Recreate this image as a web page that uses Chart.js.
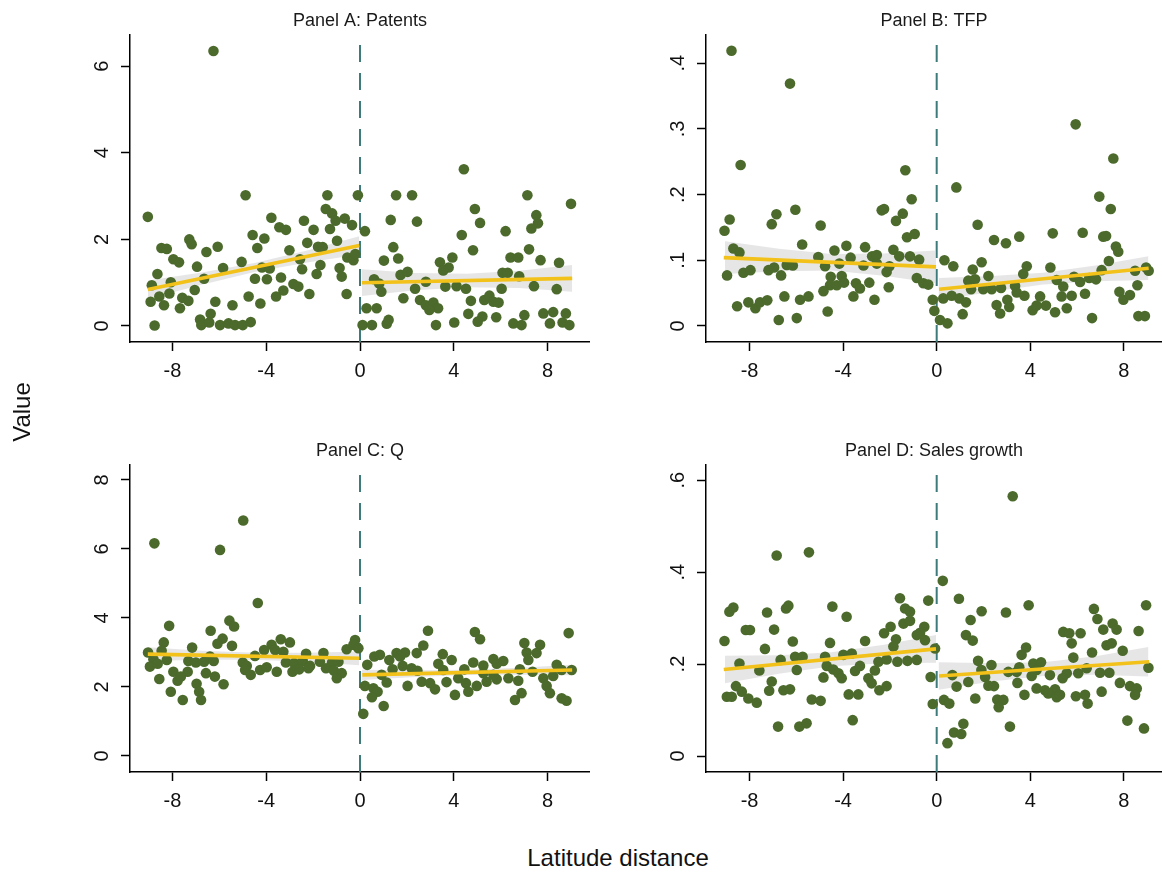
<!DOCTYPE html>
<html><head><meta charset="utf-8">
<script src="https://cdn.jsdelivr.net/npm/chart.js@4.4.1/dist/chart.umd.min.js"></script>
<style>
html,body{margin:0;padding:0;background:#fff;width:1162px;height:873px;overflow:hidden;position:relative;font-family:"Liberation Sans",Arial,sans-serif;}
canvas{position:absolute;}
.lbl{position:absolute;color:#111;font-size:24px;white-space:nowrap;line-height:24px;font-family:"Liberation Sans",Arial,sans-serif;}
</style></head><body>
<canvas id="cA" width="590" height="400" style="left:0px;top:0px"></canvas>
<canvas id="cB" width="586" height="400" style="left:576px;top:0px"></canvas>
<canvas id="cC" width="590" height="400" style="left:0px;top:430px"></canvas>
<canvas id="cD" width="586" height="400" style="left:576px;top:430px"></canvas>
<div class="lbl" style="left:-8px;top:400px;width:60px;text-align:center;transform:rotate(-90deg);">Value</div>
<div class="lbl" style="left:418px;top:846px;width:400px;text-align:center;">Latitude distance</div>
<script>
// ---------- DATA ----------
const panelTitles = ['Panel A: Patents', 'Panel B: TFP', 'Panel C: Q', 'Panel D: Sales growth'];
const xTicks = [-8, -4, 0, 4, 8];
const patentsYTicks = [0, 2, 4, 6];
const patentsYLabels = ['0', '2', '4', '6'];
const tfpYTicks = [0, 0.1, 0.2, 0.3, 0.4];
const tfpYLabels = ['0', '.1', '.2', '.3', '.4'];
const qYTicks = [0, 2, 4, 6, 8];
const qYLabels = ['0', '2', '4', '6', '8'];
const salesYTicks = [0, 0.2, 0.4, 0.6];
const salesYLabels = ['0', '.2', '.4', '.6'];

// Binned scatter points [latitude distance, value]
const patentsPoints = [
[-6.25,6.35],[-9.05,2.52],[-4.88,3.02],[-1.39,3.02],[-0.09,3.02],[-3.78,2.5],[-2.39,2.43],[-1.46,2.7],[-1.19,2.6],[-1.04,2.43],[-0.65,2.48],[-0.34,2.33],[-3.44,2.28],[-3.16,2.22],[-1.98,2.22],[-1.28,2.24],[-4.58,2.1],[-4.08,2.02],[-2.25,1.92],[-0.98,1.97],[-7.28,2.0],[-7.18,1.89],[-8.47,1.8],[-8.24,1.78],[-6.55,1.71],[-6.07,1.83],[-4.38,1.8],[-3.01,1.75],[-1.79,1.83],[-1.59,1.82],[-5.05,1.48],[-2.56,1.54],[-0.54,1.58],[-0.28,1.52],[-0.2,1.66],[-7.96,1.54],[-7.72,1.47],[-6.95,1.37],[-5.84,1.34],[-4.18,1.35],[-3.85,1.33],[-2.47,1.31],[-1.69,1.41],[-0.87,1.34],[-8.64,1.2],[-1.85,1.2],[-0.78,1.14],[-8.88,0.94],[-8.07,1.01],[-6.65,1.09],[-4.48,1.09],[-3.97,1.08],[-3.37,1.12],[-2.84,0.97],[-2.63,0.91],[-8.56,0.68],[-8.13,0.75],[-7.58,0.65],[-7.32,0.58],[-7.05,0.83],[-3.27,0.82],[-3.58,0.68],[-2.16,0.74],[-0.57,0.74],[-4.75,0.68],[-8.93,0.56],[-8.36,0.48],[-7.68,0.41],[-6.17,0.56],[-5.44,0.48],[-4.25,0.52],[-6.37,0.28],[-8.76,0.01],[-6.82,0.15],[-6.77,0.02],[-6.43,0.08],[-5.97,0.02],[-5.61,0.06],[-5.33,0.02],[-5.0,0.02],[-4.66,0.09],
[1.54,3.02],[2.22,3.02],[4.43,3.62],[7.14,3.02],[9.0,2.82],[4.9,2.7],[1.31,2.45],[2.43,2.41],[5.12,2.38],[7.52,2.56],[7.59,2.37],[7.31,2.25],[0.21,2.19],[6.21,2.19],[4.34,2.1],[1.42,1.82],[1.63,1.56],[1.02,1.51],[4.82,1.75],[3.94,1.58],[3.41,1.47],[3.78,1.35],[3.55,1.28],[6.42,1.58],[6.75,1.58],[7.21,1.77],[7.7,1.52],[8.49,1.46],[1.73,1.18],[2.03,1.25],[0.6,1.08],[0.82,0.98],[0.91,0.79],[2.81,1.02],[3.64,0.91],[4.12,0.92],[4.52,0.86],[6.08,1.23],[6.3,1.23],[6.79,1.15],[6.04,0.86],[7.42,0.92],[8.39,0.85],[2.35,0.86],[1.85,0.64],[2.56,0.6],[2.81,0.48],[3.13,0.54],[3.33,0.41],[2.96,0.37],[4.73,0.58],[5.3,0.6],[5.52,0.7],[5.69,0.56],[5.91,0.54],[0.28,0.41],[0.71,0.41],[4.62,0.28],[5.22,0.22],[5.02,0.1],[5.81,0.2],[7.01,0.25],[7.82,0.29],[8.24,0.32],[8.78,0.29],[0.11,0.02],[0.51,0.02],[1.14,0.05],[1.22,0.14],[3.24,0.02],[4.02,0.08],[6.54,0.06],[6.89,0.02],[8.1,0.06],[8.64,0.08],[8.93,0.02]
];
const tfpPoints = [
[-8.77,0.419],[-6.27,0.369],[-8.38,0.245],[-1.34,0.237],[-1.07,0.193],[-8.85,0.162],[-9.07,0.145],[-6.85,0.17],[-7.05,0.155],[-6.04,0.177],[-4.96,0.153],[-2.35,0.176],[-2.25,0.178],[-1.45,0.171],[-1.74,0.16],[-1.27,0.135],[-0.94,0.14],[-5.75,0.124],[-8.69,0.118],[-8.43,0.112],[-5.06,0.105],[-4.37,0.115],[-3.86,0.122],[-3.06,0.12],[-3.68,0.104],[-2.76,0.106],[-2.56,0.108],[-1.85,0.116],[-1.6,0.106],[-1.14,0.106],[-0.75,0.101],[-4.77,0.091],[-4.16,0.095],[-3.13,0.092],[-2.56,0.095],[-2.02,0.091],[-6.41,0.093],[-6.15,0.092],[-8.96,0.077],[-8.26,0.081],[-7.96,0.085],[-7.19,0.085],[-6.95,0.089],[-6.65,0.077],[-4.53,0.075],[-4.06,0.076],[-4.56,0.062],[-4.27,0.062],[-3.96,0.066],[-3.45,0.065],[-3.28,0.057],[-2.88,0.066],[-2.14,0.082],[-2.05,0.059],[-0.85,0.073],[-0.57,0.065],[-0.36,0.063],[-4.84,0.053],[-3.56,0.045],[-2.66,0.04],[-8.53,0.03],[-8.05,0.036],[-7.75,0.027],[-7.55,0.036],[-7.24,0.039],[-6.51,0.045],[-5.84,0.04],[-5.48,0.045],[-6.75,0.009],[-5.98,0.012],[-4.66,0.022],[-0.17,0.04],[-0.1,0.023],
[5.94,0.307],[7.55,0.255],[0.84,0.211],[6.95,0.197],[7.44,0.178],[1.75,0.154],[2.45,0.131],[2.96,0.126],[3.53,0.136],[4.96,0.141],[6.24,0.142],[7.12,0.136],[7.24,0.137],[7.66,0.121],[7.76,0.113],[0.33,0.1],[0.71,0.091],[7.36,0.099],[1.92,0.097],[1.54,0.086],[2.21,0.076],[3.85,0.091],[3.7,0.079],[4.86,0.089],[1.35,0.069],[1.64,0.071],[1.47,0.056],[1.99,0.056],[2.35,0.056],[2.75,0.058],[3.35,0.061],[5.13,0.07],[5.41,0.06],[5.87,0.075],[6.13,0.067],[6.52,0.073],[6.81,0.071],[7.05,0.085],[8.48,0.084],[8.95,0.089],[9.06,0.084],[8.58,0.062],[3.42,0.051],[3.75,0.046],[0.28,0.042],[0.64,0.046],[0.97,0.042],[1.25,0.036],[1.11,0.018],[0.14,0.009],[0.46,0.004],[2.56,0.032],[2.71,0.019],[3.02,0.04],[3.1,0.029],[4.1,0.024],[4.42,0.045],[4.67,0.031],[5.06,0.021],[5.56,0.027],[5.34,0.045],[5.77,0.046],[6.34,0.049],[6.64,0.012],[7.81,0.052],[7.98,0.04],[8.26,0.047],[8.62,0.015],[8.9,0.015],[4.27,0.031]
];
const qPoints = [
[-8.77,6.16],[-5.97,5.97],[-4.98,6.82],[-4.36,4.43],[-8.14,3.77],[-5.57,3.92],[-5.37,3.75],[-6.37,3.63],[-8.37,3.29],[-5.86,3.4],[-6.08,3.25],[-5.46,3.19],[-7.16,3.14],[-9.04,3.0],[-8.46,3.05],[-3.38,3.38],[-2.99,3.29],[-3.77,3.22],[-4.09,3.07],[-3.62,3.07],[-3.27,3.02],[-2.3,2.96],[-1.56,2.98],[-0.57,3.09],[-0.21,3.36],[-0.28,3.22],[-0.07,3.12],[-4.48,2.9],[-6.4,2.88],[-8.81,2.8],[-8.24,2.78],[-7.32,2.75],[-7.0,2.71],[-6.65,2.73],[-6.24,2.75],[-5.0,2.71],[-3.16,2.71],[-2.81,2.69],[-2.44,2.75],[-2.13,2.61],[-1.71,2.73],[-1.19,2.71],[-0.92,2.73],[-8.96,2.59],[-8.63,2.67],[-4.83,2.61],[-7.96,2.44],[-7.35,2.44],[-6.57,2.4],[-6.19,2.3],[-4.9,2.49],[-4.26,2.49],[-3.98,2.57],[-3.55,2.44],[-2.88,2.44],[-2.59,2.51],[-2.2,2.54],[-1.45,2.54],[-1.11,2.47],[-0.78,2.4],[-4.66,2.35],[-8.56,2.23],[-7.78,2.18],[-7.64,2.3],[-0.99,2.25],[-6.97,2.09],[-5.82,2.08],[-8.07,1.86],[-6.86,1.86],[-7.56,1.62],[-6.78,1.62],
[2.9,3.63],[4.9,3.59],[5.12,3.38],[8.9,3.56],[7.01,3.27],[7.68,3.22],[2.7,3.2],[2.42,2.98],[7.11,3.0],[7.53,2.98],[7.18,2.78],[0.61,2.88],[0.85,2.93],[1.56,2.98],[1.92,3.0],[1.71,2.88],[1.25,2.78],[3.53,2.95],[3.91,2.78],[3.34,2.67],[4.83,2.71],[5.26,2.62],[5.69,2.81],[6.11,2.75],[5.83,2.67],[0.31,2.64],[1.39,2.51],[1.82,2.61],[2.2,2.54],[2.45,2.47],[3.55,2.49],[4.45,2.51],[6.82,2.51],[7.36,2.44],[8.39,2.64],[8.6,2.49],[9.03,2.49],[0.92,2.35],[1.14,2.13],[2.63,2.15],[2.99,2.11],[3.69,2.14],[4.19,2.25],[4.52,2.11],[4.98,2.03],[5.4,2.15],[5.83,2.22],[6.33,2.25],[6.75,2.18],[7.82,2.25],[8.24,2.32],[7.96,2.03],[0.21,2.03],[0.57,1.96],[0.75,1.86],[0.51,1.7],[2.03,2.03],[3.2,1.93],[4.05,1.77],[4.62,1.86],[8.1,1.82],[6.89,1.82],[6.61,1.62],[8.6,1.67],[8.81,1.6],[1.01,1.45],[0.14,1.22],[5.26,2.4],[5.69,2.35]
];
const salesPoints = [
[-6.84,0.436],[-5.46,0.443],[-1.57,0.343],[-0.36,0.338],[-8.86,0.314],[-8.69,0.323],[-6.44,0.321],[-6.34,0.327],[-4.46,0.325],[-7.25,0.312],[-3.85,0.303],[-1.35,0.321],[-1.14,0.314],[-1.42,0.288],[-1.14,0.294],[-1.97,0.281],[-2.25,0.267],[-0.53,0.281],[-0.71,0.268],[-0.85,0.263],[-0.5,0.252],[-8.16,0.274],[-7.98,0.274],[-6.95,0.275],[-9.07,0.25],[-3.06,0.25],[-1.74,0.254],[-6.15,0.249],[-4.56,0.246],[-7.34,0.233],[-1.85,0.238],[-0.07,0.234],[-8.43,0.201],[-6.67,0.209],[-6.05,0.216],[-5.73,0.216],[-4.77,0.216],[-3.99,0.22],[-3.63,0.223],[-2.49,0.205],[-2.14,0.21],[-1.68,0.205],[-1.25,0.207],[-0.85,0.209],[-7.58,0.186],[-5.98,0.187],[-4.7,0.196],[-4.42,0.188],[-4.2,0.18],[-4.06,0.169],[-3.49,0.185],[-3.28,0.196],[-2.64,0.186],[-4.84,0.171],[-2.92,0.169],[-2.78,0.158],[-2.45,0.143],[-2.14,0.152],[-7.05,0.162],[-7.16,0.142],[-6.55,0.143],[-6.27,0.145],[-8.58,0.152],[-8.97,0.129],[-8.76,0.129],[-8.33,0.14],[-8.05,0.125],[-7.69,0.116],[-5.34,0.123],[-4.96,0.12],[-3.76,0.134],[-3.35,0.134],[-0.26,0.172],[-0.17,0.113],[-3.59,0.078],[-6.78,0.064],[-5.87,0.064],[-5.56,0.071],
[3.25,0.565],[0.26,0.381],[0.95,0.342],[3.93,0.328],[8.95,0.328],[1.92,0.315],[2.96,0.312],[1.45,0.296],[6.72,0.32],[6.87,0.298],[7.52,0.288],[7.69,0.275],[7.12,0.275],[5.41,0.27],[5.67,0.267],[6.15,0.267],[8.63,0.272],[1.25,0.263],[1.54,0.251],[5.77,0.245],[7.26,0.241],[7.48,0.245],[7.95,0.229],[3.82,0.236],[3.63,0.22],[5.84,0.214],[6.64,0.225],[1.77,0.207],[2.34,0.198],[4.13,0.201],[4.46,0.204],[3.53,0.193],[1.91,0.187],[3.06,0.183],[3.42,0.183],[4.27,0.187],[4.84,0.176],[5.56,0.18],[6.05,0.18],[6.41,0.191],[6.98,0.181],[7.38,0.181],[9.05,0.192],[0.67,0.176],[0.85,0.151],[1.35,0.161],[2.07,0.172],[2.21,0.153],[2.45,0.152],[3.45,0.159],[4.06,0.174],[5.38,0.169],[7.83,0.159],[8.26,0.152],[8.55,0.147],[8.48,0.133],[4.27,0.147],[4.63,0.143],[5.06,0.145],[4.77,0.136],[5.13,0.128],[5.27,0.133],[5.95,0.13],[6.34,0.133],[6.45,0.114],[7.05,0.14],[3.75,0.133],[1.65,0.125],[2.59,0.123],[2.85,0.122],[2.65,0.106],[0.31,0.122],[0.54,0.114],[1.14,0.07],[0.74,0.051],[1.05,0.048],[0.46,0.028],[3.13,0.064],[8.15,0.077],[8.86,0.06]
];

// Linear fits (endpoints) on each side of the cutoff
const patentsFitLeft = [[-9.05,0.84],[-0.03,1.86]];
const patentsFitRight = [[0.08,1.0],[9.05,1.1]];
const tfpFitLeft = [[-9.1,0.104],[-0.03,0.09]];
const tfpFitRight = [[0.1,0.056],[9.06,0.088]];
const qFitLeft = [[-9.05,2.95],[-0.03,2.83]];
const qFitRight = [[0.1,2.35],[9.05,2.49]];
const salesFitLeft = [[-9.1,0.188],[-0.03,0.233]];
const salesFitRight = [[0.1,0.174],[9.08,0.205]];

// 95% confidence bands: x positions and lower / upper bounds
const bandXLeft = [-9.05, -6.75, -4.5, -2.25, -0.03];
const bandXRight = [0.08, 2.35, 4.55, 6.8, 9.05];
const patentsBandLoL = [0.63, 0.955, 1.245, 1.465, 1.65];
const patentsBandHiL = [1.05, 1.235, 1.455, 1.745, 2.07];
const patentsBandLoR = [0.69, 0.825, 0.895, 0.875, 0.79];
const patentsBandHiR = [1.31, 1.225, 1.205, 1.275, 1.41];
const tfpBandLoL = [0.079, 0.0835, 0.0845, 0.0765, 0.065];
const tfpBandHiL = [0.129, 0.1175, 0.1095, 0.1105, 0.115];
const tfpBandLoR = [0.039, 0.052, 0.063, 0.068, 0.070];
const tfpBandHiR = [0.073, 0.076, 0.081, 0.092, 0.106];
const qBandLoL = [2.75, 2.79, 2.79, 2.73, 2.63];
const qBandHiL = [3.15, 3.05, 2.99, 2.99, 3.03];
const qBandLoR = [2.20, 2.285, 2.345, 2.355, 2.34];
const qBandHiR = [2.50, 2.485, 2.495, 2.555, 2.64];
const salesBandLoL = [0.158, 0.179, 0.1955, 0.202, 0.203];
const salesBandHiL = [0.218, 0.219, 0.2255, 0.242, 0.263];
const salesBandLoR = [0.144, 0.162, 0.174, 0.177, 0.173];
const salesBandHiR = [0.204, 0.202, 0.204, 0.217, 0.237];

// ---------- STYLE ----------
const FONT = '"Liberation Sans", Arial, sans-serif';
const GREEN = '#4b6a2b';
const YELLOW = '#f3c21a';
const BAND = 'rgba(205,205,205,0.5)';
const TEAL = '#3c7a7b';

const yLabelPlugin = {
  id: 'yLabels',
  afterDraw(chart) {
    const o = chart.options.plugins.yLabels;
    const s = chart.scales.y;
    const ctx = chart.ctx;
    ctx.save();
    ctx.fillStyle = '#111';
    ctx.font = '20px ' + FONT;
    ctx.textAlign = 'center';
    ctx.textBaseline = 'middle';
    o.values.forEach((v, i) => {
      const y = s.getPixelForValue(v);
      ctx.save();
      ctx.translate(s.right - 28, y);
      ctx.rotate(-Math.PI / 2);
      ctx.fillText(o.labels[i], 0, 0);
      ctx.restore();
    });
    ctx.restore();
  }
};

function xy(arr) { return arr.map(p => ({x: p[0], y: p[1]})); }
function band(xs, ys) { return xs.map((x, i) => ({x: x, y: ys[i]})); }

function makePanel(id, title, pts, fitL, fitR, loL, hiL, loR, hiR, yMin, yMax, yTicks, yLabels, xMin, xMax) {
  const lineBase = {pointRadius: 0, showLine: true, fill: false, tension: 0};
  const datasets = [
    Object.assign({}, lineBase, {data: xy(fitL), borderColor: YELLOW, borderWidth: 3.6, order: 0}),
    Object.assign({}, lineBase, {data: xy(fitR), borderColor: YELLOW, borderWidth: 3.6, order: 0}),
    {data: xy(pts), showLine: false, pointRadius: 5.3, pointBackgroundColor: GREEN, pointBorderColor: GREEN,
     pointBorderWidth: 0, borderColor: GREEN, backgroundColor: GREEN, order: 1, clip: false},
    Object.assign({}, lineBase, {data: band(bandXLeft, hiL), fill: '+1', backgroundColor: BAND, borderWidth: 0, borderColor: 'rgba(0,0,0,0)', order: 2}),
    Object.assign({}, lineBase, {data: band(bandXLeft, loL), borderWidth: 0, borderColor: 'rgba(0,0,0,0)', order: 2}),
    Object.assign({}, lineBase, {data: band(bandXRight, hiR), fill: '+1', backgroundColor: BAND, borderWidth: 0, borderColor: 'rgba(0,0,0,0)', order: 2}),
    Object.assign({}, lineBase, {data: band(bandXRight, loR), borderWidth: 0, borderColor: 'rgba(0,0,0,0)', order: 2}),
    Object.assign({}, lineBase, {data: [{x: 0, y: yMin}, {x: 0, y: yMax}], borderColor: TEAL, borderWidth: 2, borderDash: [17, 11], order: 3})
  ];
  return new Chart(document.getElementById(id), {
    type: 'line',
    data: {datasets: datasets},
    plugins: [yLabelPlugin],
    options: {
      responsive: false,
      animation: false,
      devicePixelRatio: 1,
      events: [],
      layout: {autoPadding: false, padding: {left: 0, right: 0, top: 0, bottom: 0}},
      plugins: {
        legend: {display: false},
        tooltip: {enabled: false},
        title: {display: true, fullSize: false, text: title, color: '#1a1a1a', font: {family: FONT, size: 18, weight: 'normal', lineHeight: 1.2},
                padding: {top: 10, bottom: 3.4}},
        yLabels: {values: yTicks, labels: yLabels}
      },
      scales: {
        x: {
          type: 'linear', position: 'bottom', min: xMin, max: xMax,
          afterBuildTicks: s => { s.ticks = xTicks.map(v => ({value: v})); },
          afterFit: s => { s.height = 58; },
          ticks: {color: '#111', font: {family: FONT, size: 20}, padding: 8, maxRotation: 0, minRotation: 0, autoSkip: false,
                  callback: v => String(v)},
          grid: {display: true, drawOnChartArea: false, drawTicks: true, tickLength: 9, color: '#000', tickColor: '#000', tickWidth: 1.5},
          border: {display: true, color: '#000', width: 1.5}
        },
        y: {
          type: 'linear', position: 'left', min: yMin, max: yMax,
          afterBuildTicks: s => { s.ticks = yTicks.map(v => ({value: v})); },
          afterFit: s => { s.width = 130; },
          ticks: {display: false},
          grid: {display: true, drawOnChartArea: false, drawTicks: true, tickLength: 9, color: '#000', tickColor: '#000', tickWidth: 1.5},
          border: {display: true, color: '#000', width: 1.5}
        }
      }
    }
  });
}

makePanel('cA', panelTitles[0], patentsPoints, patentsFitLeft, patentsFitRight, patentsBandLoL, patentsBandHiL, patentsBandLoR, patentsBandHiR,
          -0.37, 6.72, patentsYTicks, patentsYLabels, -9.81, 9.81);
makePanel('cB', panelTitles[1], tfpPoints, tfpFitLeft, tfpFitRight, tfpBandLoL, tfpBandHiL, tfpBandLoR, tfpBandHiR,
          -0.0244, 0.443, tfpYTicks, tfpYLabels, -9.86, 9.63);
makePanel('cC', panelTitles[2], qPoints, qFitLeft, qFitRight, qBandLoL, qBandHiL, qBandLoR, qBandHiR,
          -0.464, 8.43, qYTicks, qYLabels, -9.81, 9.81);
makePanel('cD', panelTitles[3], salesPoints, salesFitLeft, salesFitRight, salesBandLoL, salesBandHiL, salesBandLoR, salesBandHiR,
          -0.0348, 0.633, salesYTicks, salesYLabels, -9.86, 9.63);
</script>
</body></html>
